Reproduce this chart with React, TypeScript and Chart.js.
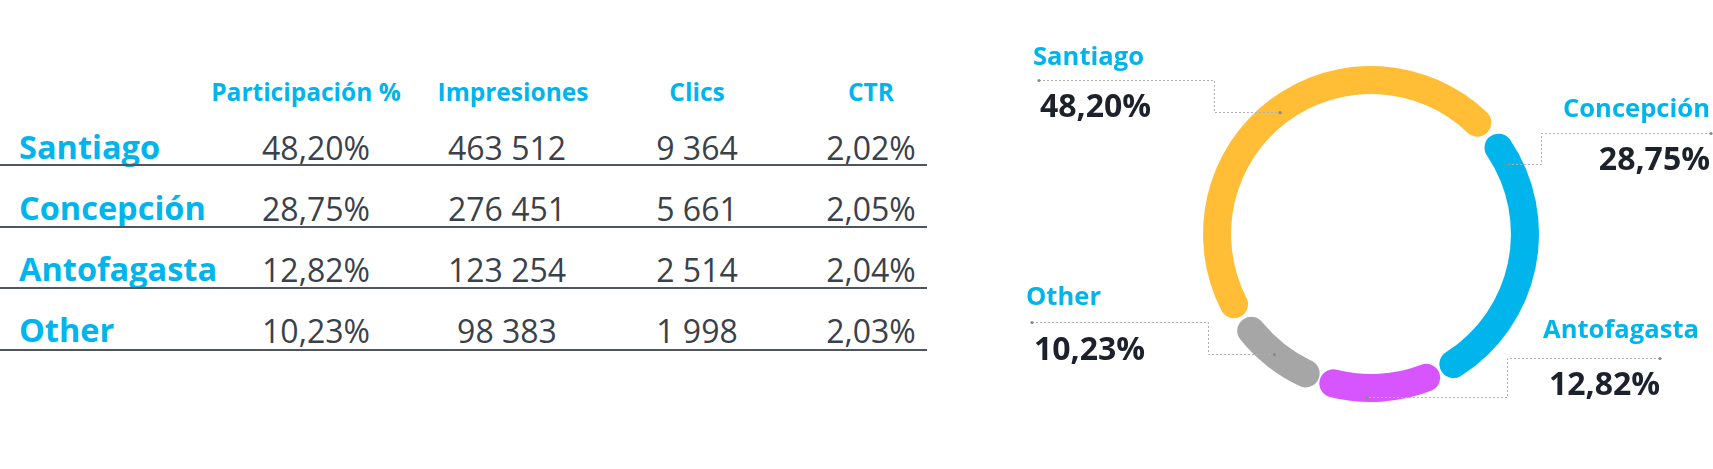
import React, { useEffect, useRef } from "react";
import { Chart, registerables } from "chart.js";

Chart.register(...registerables);

// ---------- data ----------
const cities = ["Santiago", "Concepción", "Antofagasta", "Other"];
const shares = [48.2, 28.75, 12.82, 10.23];
const impressions = [463512, 276451, 123254, 98383];
const clicks = [9364, 5661, 2514, 1998];
const ctrValues = [2.02, 2.05, 2.04, 2.03];
const headers = ["Participación %", "Impresiones", "Clics", "CTR"];
const ringColors = ["#FFBE36", "#00B4EC", "#D655FE", "#A6A6A6"];

// ---------- formatting ----------
const fmtPct = (v: number) => v.toFixed(2).replace(".", ",") + "%";
const fmtInt = (v: number) => String(v).replace(/\B(?=(\d{3})+(?!\d))/g, " ");

// ---------- layout / style ----------
const FONT = "'Open Sans', 'Noto Sans', sans-serif";
const BLUE = "#00B4EC";
const DARK = "#1C212C";
const VALUE = "#3A414B";
const headerCenters = [306, 513, 697, 871];
const valueCenters = [316, 507, 697, 871];
const headerBaseline = 102;
const rowBaselines = [160, 221, 282, 343];
const ruleYs = [165, 227, 288, 350];
const CANVAS_LEFT = 1000;

type Callout = {
  name: { x: number; y: number; align: CanvasTextAlign };
  value: { x: number; y: number; align: CanvasTextAlign };
  dot: { x: number; y: number };
  elbowX: number;
  frac: number;
  rf: number;
};

const callouts: Callout[] = [
  { name: { x: 1033, y: 65, align: "left" }, value: { x: 1040, y: 117, align: "left" }, dot: { x: 1039, y: 80 }, elbowX: 1214, frac: 0.5, rf: 0.5 },
  { name: { x: 1710, y: 117, align: "right" }, value: { x: 1710, y: 170, align: "right" }, dot: { x: 1711, y: 133 }, elbowX: 1541, frac: 0.124, rf: 0.55 },
  { name: { x: 1543, y: 338, align: "left" }, value: { x: 1549, y: 395, align: "left" }, dot: { x: 1660, y: 358 }, elbowX: 1507, frac: 0.6, rf: 0.9 },
  { name: { x: 1026, y: 305, align: "left" }, value: { x: 1034, y: 360, align: "left" }, dot: { x: 1032, y: 322 }, elbowX: 1208, frac: 0.52, rf: 0.58 },
];

const calloutPlugin = {
  id: "callouts",
  afterDatasetsDraw(chart: any) {
    const ctx: CanvasRenderingContext2D = chart.ctx;
    const meta = chart.getDatasetMeta(0);
    ctx.save();
    callouts.forEach((c, i) => {
      const arc = meta.data[i];
      if (!arc) return;
      const p = arc.getProps(["x", "y", "startAngle", "endAngle", "innerRadius", "outerRadius"], true);
      const a = p.startAngle + c.frac * (p.endAngle - p.startAngle);
      const r = p.innerRadius + c.rf * (p.outerRadius - p.innerRadius);
      const ax = p.x + r * Math.cos(a);
      const ay = p.y + r * Math.sin(a);
      const dx = c.dot.x - CANVAS_LEFT;
      const dy = c.dot.y;
      const ex = c.elbowX - CANVAS_LEFT;

      ctx.strokeStyle = "#B0B0B0";
      ctx.lineWidth = 1;
      ctx.setLineDash([2, 2]);
      ctx.beginPath();
      ctx.moveTo(dx, Math.round(dy) + 0.5);
      ctx.lineTo(Math.round(ex) + 0.5, Math.round(dy) + 0.5);
      ctx.lineTo(Math.round(ex) + 0.5, Math.round(ay) + 0.5);
      ctx.lineTo(ax, Math.round(ay) + 0.5);
      ctx.stroke();
      ctx.setLineDash([]);
      ctx.fillStyle = "#8A8A8A";
      ctx.beginPath();
      ctx.arc(dx, dy + 0.5, 1.6, 0, Math.PI * 2);
      ctx.fill();
      ctx.beginPath();
      ctx.arc(ax, ay + 0.5, 1.6, 0, Math.PI * 2);
      ctx.fill();

      ctx.textBaseline = "alphabetic";
      ctx.font = `700 25.6px ${FONT}`;
      ctx.fillStyle = BLUE;
      ctx.textAlign = c.name.align;
      ctx.fillText(chart.data.labels[i], c.name.x - CANVAS_LEFT, c.name.y);
      ctx.font = `700 32px ${FONT}`;
      ctx.fillStyle = DARK;
      ctx.textAlign = c.value.align;
      ctx.fillText(fmtPct(chart.data.datasets[0].data[i]), c.value.x - CANVAS_LEFT, c.value.y);
    });
    ctx.restore();
  },
};

function Text(props: { text: string; cx?: number; left?: number; baseline: number; size: number; weight: number; color: string }) {
  const { text, cx, left, baseline, size, weight, color } = props;
  const top = baseline - 0.888 * size;
  const style: React.CSSProperties = {
    position: "absolute",
    top,
    fontFamily: FONT,
    fontSize: size,
    fontWeight: weight,
    lineHeight: 1,
    color,
    whiteSpace: "nowrap",
  };
  if (cx !== undefined) {
    style.left = cx - 200;
    style.width = 400;
    style.textAlign = "center";
  } else {
    style.left = left;
  }
  return <div style={style}>{text}</div>;
}

export default function App() {
  const ref = useRef<HTMLCanvasElement | null>(null);

  useEffect(() => {
    if (!ref.current) return;
    const chart = new Chart(ref.current, {
      type: "doughnut",
      data: {
        labels: cities,
        datasets: [
          {
            data: shares,
            backgroundColor: ringColors,
            borderWidth: 0,
            borderRadius: 14,
            spacing: 4,
            hoverOffset: 0,
          } as any,
        ],
      },
      options: {
        responsive: false,
        animation: false,
        radius: 166,
        cutout: "83.1%",
        rotation: -123.5,
        layout: { padding: { left: 200, right: 171, top: 63, bottom: 64 } },
        plugins: { legend: { display: false }, tooltip: { enabled: false } },
        events: [],
      } as any,
      plugins: [calloutPlugin],
    });
    return () => chart.destroy();
  }, []);

  const rows = cities.map((c, i) => [fmtPct(shares[i]), fmtInt(impressions[i]), fmtInt(clicks[i]), fmtPct(ctrValues[i])]);

  return (
    <div style={{ position: "fixed", left: 0, top: 0, width: 1713, height: 469, background: "#fff", overflow: "hidden" }}>
      {headers.map((h, j) => (
        <Text key={"h" + j} text={h} cx={headerCenters[j]} baseline={headerBaseline} size={24.5} weight={700} color={BLUE} />
      ))}
      {cities.map((c, i) => (
        <React.Fragment key={"r" + i}>
          <Text text={c} left={19} baseline={rowBaselines[i]} size={32.5} weight={700} color={BLUE} />
          {rows[i].map((v, j) => (
            <Text key={j} text={v} cx={valueCenters[j]} baseline={rowBaselines[i]} size={32} weight={400} color={VALUE} />
          ))}
          <div style={{ position: "absolute", left: 0, top: ruleYs[i] - 1, width: 927, height: 2, background: "#50565E" }} />
        </React.Fragment>
      ))}
      <canvas
        ref={ref}
        width={713}
        height={469}
        style={{ position: "absolute", left: CANVAS_LEFT, top: 0, width: 713, height: 469 }}
      />
    </div>
  );
}
